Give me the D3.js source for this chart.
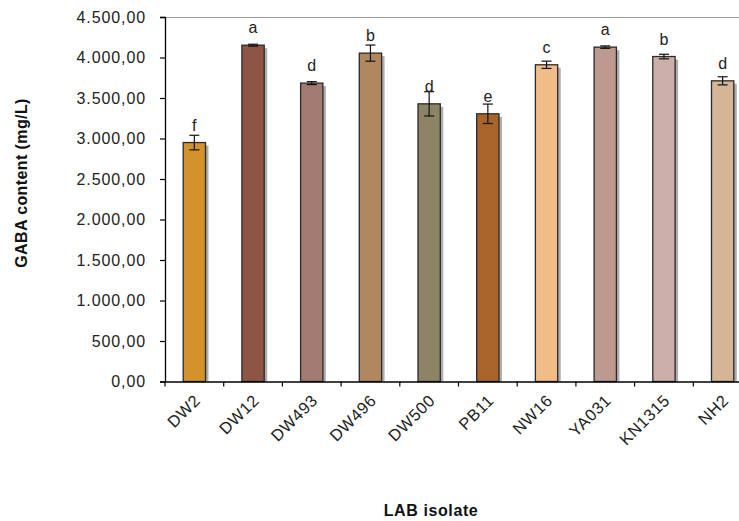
<!DOCTYPE html>
<html><head><meta charset="utf-8">
<script src="https://cdn.jsdelivr.net/npm/d3@7/dist/d3.min.js"></script>
<style>body{margin:0;background:#fff;}svg{display:block;font-family:"Liberation Sans",Arial,sans-serif;}</style>
</head><body>
<svg id="c" width="739" height="521"></svg>
<script>
const categories = ["DW2","DW12","DW493","DW496","DW500","PB11","NW16","YA031","KN1315","NH2"];
const values = [2950,4152,3684,4054,3428,3305,3910,4128,4012,3712];
const errors = [90,12,18,100,150,120,45,15,28,50];
const letters = ["f","a","d","b","d","e","c","a","b","d"];
const colors = ["#D4922B","#8E5544","#A37B72","#B0875F","#8C8464","#A8642A","#F2BC88","#BE9990","#CCAFA9","#D4B697"];
const yTicks = [0,500,1000,1500,2000,2500,3000,3500,4000,4500];

(function(){
const svg = d3.select("#c");
const pL = 165, pT = 17, pB = 381.5, pR = 752;
const x = d3.scaleBand().domain(categories).range([pL, pR]).paddingInner(0.62).paddingOuter(0.31);
const xb = d3.scaleBand().domain(categories).range([pL, pR]);
const y = d3.scaleLinear().domain([0,4500]).range([pB, pT]);
const fmt = v => d3.format(",.2f")(v).replace(/,/g,"#").replace(/\./g,",").replace(/#/g,".");

svg.append("line").attr("x1",pL).attr("x2",739).attr("y1",y(4500)+0.5).attr("y2",y(4500)+0.5).attr("stroke","#999").attr("stroke-width",1);

svg.selectAll("rect.sh").data(categories).join("rect").attr("class","sh")
  .attr("x",d=>x(d)+3).attr("width",x.bandwidth())
  .attr("y",(d,i)=>y(values[i])+3).attr("height",(d,i)=>pB-y(values[i])-3)
  .attr("fill","#9a9a9a").attr("opacity",0.8);
svg.selectAll("rect.bar").data(categories).join("rect").attr("class","bar")
  .attr("x",d=>x(d)).attr("width",x.bandwidth())
  .attr("y",(d,i)=>y(values[i])).attr("height",(d,i)=>pB-y(values[i]))
  .attr("fill",(d,i)=>colors[i]).attr("stroke","#2a2a2a").attr("stroke-width",1.3);

const eg = svg.append("g").attr("stroke","#111").attr("stroke-width",1.2);
categories.forEach((c,i)=>{
  const cx = x(c)+x.bandwidth()/2;
  const y1 = y(values[i]+errors[i]), y2 = y(values[i]-errors[i]);
  eg.append("line").attr("x1",cx).attr("x2",cx).attr("y1",y1).attr("y2",y2);
  eg.append("line").attr("x1",cx-5).attr("x2",cx+5).attr("y1",y1).attr("y2",y1);
  eg.append("line").attr("x1",cx-5).attr("x2",cx+5).attr("y1",y2).attr("y2",y2);
});
svg.selectAll("text.let").data(categories).join("text").attr("class","let")
  .attr("x",d=>x(d)+x.bandwidth()/2).attr("y",(d,i)=>y(values[i])-12)
  .attr("text-anchor","middle").attr("font-size",16).attr("fill","#222")
  .text((d,i)=>letters[i]);

const ya = svg.append("g").attr("transform",`translate(${pL},0)`)
  .call(d3.axisLeft(y).tickValues(yTicks).tickSize(5).tickFormat(fmt));
ya.select(".domain").attr("stroke","#000").attr("stroke-width",1.3);
ya.selectAll(".tick line").attr("stroke","#000").attr("stroke-width",1.2);
ya.selectAll(".tick text").attr("font-size",16).attr("letter-spacing","0.9px").attr("fill","#222").attr("x",-19)
  .attr("font-family","'Liberation Sans',Arial,sans-serif");

const xa = svg.append("g").attr("transform",`translate(0,${pB})`)
  .call(d3.axisBottom(xb).tickSize(0).tickFormat(""));
xa.select(".domain").attr("stroke","#000").attr("stroke-width",1.3);
xb.domain().forEach((d,i)=>{
  const tx = xb(d);
  xa.append("line").attr("x1",tx).attr("x2",tx).attr("y1",0).attr("y2",5).attr("stroke","#000").attr("stroke-width",1.2);
});
svg.selectAll("text.xl").data(categories).join("text").attr("class","xl")
  .attr("transform",d=>`translate(${x(d)+x.bandwidth()/2+7},${pB+20}) rotate(-45)`)
  .attr("text-anchor","end").attr("font-size",16.5).attr("letter-spacing","0.6px").attr("fill","#222")
  .text(d=>d);

svg.append("text").attr("transform",`translate(27,183) rotate(-90)`)
  .attr("text-anchor","middle").attr("font-size",16).attr("font-weight","bold").attr("letter-spacing","0.4px").attr("fill","#111")
  .text("GABA content (mg/L)");
svg.append("text").attr("x",431).attr("y",516).attr("text-anchor","middle")
  .attr("font-size",16).attr("font-weight","bold").attr("letter-spacing","0.6px").attr("fill","#111")
  .text("LAB isolate");
})();
</script>
</body></html>
